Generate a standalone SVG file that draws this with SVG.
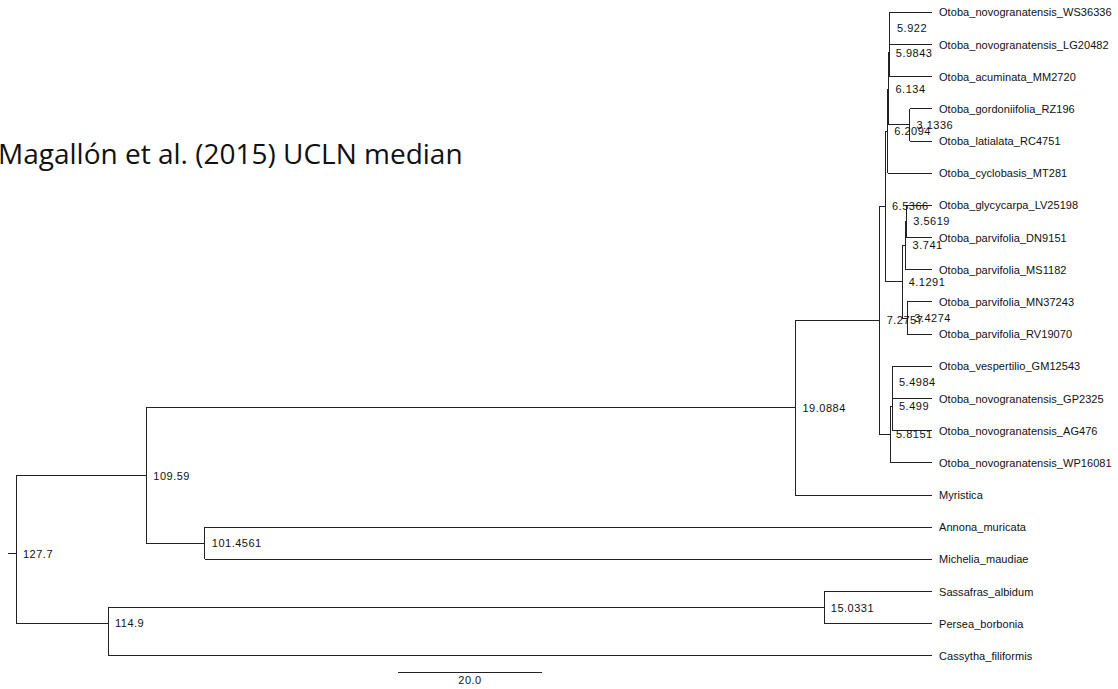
<svg xmlns="http://www.w3.org/2000/svg" width="1118" height="689" viewBox="0 0 1118 689">
<style>
.br{fill:none;stroke:#222;stroke-width:1;shape-rendering:crispEdges}
.tip{font-family:"Liberation Sans",Arial,sans-serif;font-size:11px;fill:#111;letter-spacing:0.05px}
.nl{font-family:"Liberation Sans",Arial,sans-serif;font-size:11px;fill:#111;letter-spacing:0.5px}
.title{font-family:"Open Sans","Noto Sans",sans-serif;font-size:28px;fill:#111}
</style>
<rect width="1118" height="689" fill="#fff"/>
<g id="title"><text class="title" x="-2" y="164">Magallón et al. (2015) UCLN median</text></g>
<g id="connectors">
<path class="br" d="M7.5,553.6 H16 M16,475.5 V623.5 M16,475.5 H146.2 M16,623.5 H108.2"/>
<path class="br" d="M146.2,407.8 V543.3 M146.2,407.8 H795.1 M146.2,543.3 H204.6"/>
<path class="br" d="M108.2,607.6 V655.9 M108.2,607.6 H824.2 M108.2,655.9 H932"/>
<path class="br" d="M795.1,320.5 V495 M795.1,320.5 H879.8 M795.1,495 H932"/>
<path class="br" d="M204.6,527.2 V559.4 M204.6,527.2 H932 M204.6,559.4 H932"/>
<path class="br" d="M824.2,591.5 V623.7 M824.2,591.5 H932 M824.2,623.7 H932"/>
<path class="br" d="M879.8,206.4 V434.7 M879.8,206.4 H885.1 M879.8,434.7 H890.3"/>
<path class="br" d="M885.1,131 V281.8 M885.1,131 H887.5 M885.1,281.8 H902.4"/>
<path class="br" d="M887.5,88.7 V173.2 M887.5,88.7 H888 M887.5,173.2 H932"/>
<path class="br" d="M888,52.6 V124.9 M888,52.6 H889.1 M888,124.9 H909.5"/>
<path class="br" d="M889.1,28.4 V76.7 M889.1,28.4 H889.5 M889.1,76.7 H932"/>
<path class="br" d="M889.5,12.3 V44.5 M889.5,12.3 H932 M889.5,44.5 H932"/>
<path class="br" d="M909.5,108.8 V141 M909.5,108.8 H932 M909.5,141 H932"/>
<path class="br" d="M902.4,245.6 V318 M902.4,245.6 H905.2 M902.4,318 H907.4"/>
<path class="br" d="M905.2,221.5 V269.7 M905.2,221.5 H906.5 M905.2,269.7 H932"/>
<path class="br" d="M906.5,205.4 V237.6 M906.5,205.4 H932 M906.5,237.6 H932"/>
<path class="br" d="M907.4,301.9 V334.1 M907.4,301.9 H932 M907.4,334.1 H932"/>
<path class="br" d="M890.3,406.5 V462.8 M890.3,406.5 H892.6 M890.3,462.8 H932"/>
<path class="br" d="M892.6,382.4 V430.6 M892.6,430.6 H932"/>
<path class="br" d="M892.6,366.3 V398.5 M892.6,366.3 H932 M892.6,398.5 H932"/>
<path class="br" d="M398.3,672.3 H541.7"/>
</g>
<g id="tip-WS36336"><text class="tip" x="939" y="16.3">Otoba_novogranatensis_WS36336</text></g>
<g id="tip-LG20482"><text class="tip" x="939" y="48.5">Otoba_novogranatensis_LG20482</text></g>
<g id="tip-MM2720"><text class="tip" x="939" y="80.7">Otoba_acuminata_MM2720</text></g>
<g id="tip-RZ196"><text class="tip" x="939" y="112.8">Otoba_gordoniifolia_RZ196</text></g>
<g id="tip-RC4751"><text class="tip" x="939" y="145">Otoba_latialata_RC4751</text></g>
<g id="tip-MT281"><text class="tip" x="939" y="177.2">Otoba_cyclobasis_MT281</text></g>
<g id="tip-LV25198"><text class="tip" x="939" y="209.4">Otoba_glycycarpa_LV25198</text></g>
<g id="tip-DN9151"><text class="tip" x="939" y="241.6">Otoba_parvifolia_DN9151</text></g>
<g id="tip-MS1182"><text class="tip" x="939" y="273.7">Otoba_parvifolia_MS1182</text></g>
<g id="tip-MN37243"><text class="tip" x="939" y="305.9">Otoba_parvifolia_MN37243</text></g>
<g id="tip-RV19070"><text class="tip" x="939" y="338.1">Otoba_parvifolia_RV19070</text></g>
<g id="tip-GM12543"><text class="tip" x="939" y="370.3">Otoba_vespertilio_GM12543</text></g>
<g id="tip-GP2325"><text class="tip" x="939" y="402.5">Otoba_novogranatensis_GP2325</text></g>
<g id="tip-AG476"><text class="tip" x="939" y="434.6">Otoba_novogranatensis_AG476</text></g>
<g id="tip-WP16081"><text class="tip" x="939" y="466.8">Otoba_novogranatensis_WP16081</text></g>
<g id="tip-Myristica"><text class="tip" x="939" y="499">Myristica</text></g>
<g id="tip-Annona"><text class="tip" x="939" y="531.2">Annona_muricata</text></g>
<g id="tip-Michelia"><text class="tip" x="939" y="563.4">Michelia_maudiae</text></g>
<g id="tip-Sassafras"><text class="tip" x="939" y="595.5">Sassafras_albidum</text></g>
<g id="tip-Persea"><text class="tip" x="939" y="627.7">Persea_borbonia</text></g>
<g id="tip-Cassytha"><text class="tip" x="939" y="659.9">Cassytha_filiformis</text></g>
<g id="node-127_7"><text class="nl" x="23" y="557.6">127.7</text></g>
<g id="node-109_59"><text class="nl" x="153.3" y="479.5">109.59</text></g>
<g id="node-114_9"><text class="nl" x="115" y="627.2">114.9</text></g>
<g id="node-101_4561"><text class="nl" x="211.8" y="547.3">101.4561</text></g>
<g id="node-19_0884"><text class="nl" x="802.5" y="411.8">19.0884</text></g>
<g id="node-15_0331"><text class="nl" x="830.8" y="611.6">15.0331</text></g>
<g id="node-7_2757"><text class="nl" x="886.7" y="323.5">7.2757</text></g>
<g id="node-6_5366"><text class="nl" x="892" y="210">6.5366</text></g>
<g id="node-6_2094"><text class="nl" x="894.3" y="135">6.2094</text></g>
<g id="node-6_134"><text class="nl" x="895.5" y="92.7">6.134</text></g>
<g id="node-5_9843"><text class="nl" x="895.8" y="56.6">5.9843</text></g>
<g id="node-5_922"><text class="nl" x="897" y="32.4">5.922</text></g>
<g id="node-3_1336"><text class="nl" x="916.5" y="128.9">3.1336</text></g>
<g id="node-4_1291"><text class="nl" x="908.7" y="285.8">4.1291</text></g>
<g id="node-3_741"><text class="nl" x="912.6" y="249">3.741</text></g>
<g id="node-3_5619"><text class="nl" x="913.3" y="225">3.5619</text></g>
<g id="node-3_4274"><text class="nl" x="914.3" y="322.3">3.4274</text></g>
<g id="node-5_8151"><text class="nl" x="896" y="438.4">5.8151</text></g>
<g id="node-5_499"><text class="nl" x="899" y="410">5.499</text></g>
<g id="node-5_4984"><text class="nl" x="899" y="386.4">5.4984</text></g>
<g id="scale"><text class="nl" x="470" y="683.5" text-anchor="middle">20.0</text></g>
</svg>
